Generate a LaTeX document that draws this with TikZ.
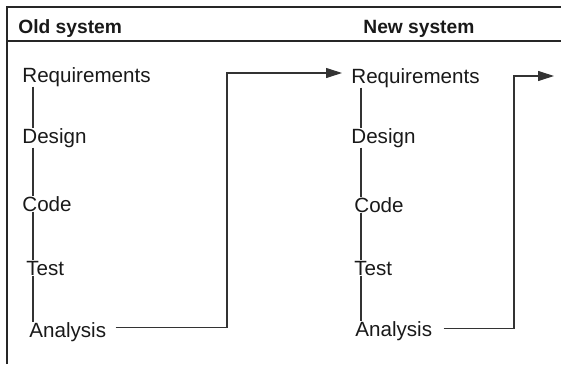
\documentclass[tikz,border=0pt]{standalone}
\usepackage{fontspec}
\setmainfont{Liberation Sans}
\usetikzlibrary{arrows.meta, positioning, calc}

\begin{document}
\begin{tikzpicture}[
    x=0.5pt, y=-0.5pt,
    stage/.style={anchor=base west, inner sep=0pt, text=black!90, font=\fontsize{10.3}{12}\selectfont},
    heading/.style={anchor=base west, inner sep=0pt, text=black!90, font=\fontsize{9.6}{12}\selectfont\bfseries},
    frame/.style={line width=0.8pt, draw=black!85},
    link/.style={line width=0.55pt, draw=black!80},
    flow/.style={link, -{Triangle[length=8pt, width=5pt]}}
]
\useasboundingbox (0,0) rectangle (561,364);

% Rahmen und Kopfzeile
\draw[frame] (7,364) |- (561,7);
\draw[frame] (7,41) -- (561,41);
\node[heading] (oldhead) at (18,33) {Old system};
\node[heading] (newhead) at (363,33) {New system};

% Altes System
\node[stage] (oldreq)  at (22,82)  {Requirements};
\node[stage] (olddes)  at (22,143) {Design};
\node[stage] (oldcode) at (22,211) {Code};
\node[stage] (oldtest) at (26,275) {Test};
\node[stage] (oldana)  at (29,337) {Analysis};

% Neues System
\node[stage] (newreq)  at (351,83)  {Requirements};
\node[stage] (newdes)  at (351,143) {Design};
\node[stage] (newcode) at (354,212) {Code};
\node[stage] (newtest) at (354,275) {Test};
\node[stage] (newana)  at (355,336) {Analysis};

% Hilfspunkte
\coordinate (oldx) at (33,0);
\coordinate (newx) at (361,0);
\coordinate (bend1) at (227,73);
\coordinate (bend2) at (514,76);
\coordinate (nextsys) at (554,76);

% Phasen verbinden
\foreach \a/\b in {oldreq/olddes, olddes/oldcode, oldcode/oldtest, oldtest/oldana} {
    \draw[link] (\a.south -| oldx) -- (\b.north -| oldx);
}
\foreach \a/\b in {newreq/newdes, newdes/newcode, newcode/newtest, newtest/newana} {
    \draw[link] (\a.south -| newx) -- (\b.north -| newx);
}

% Rueckfuehrung
\draw[flow, shorten <=4.5pt, shorten >=4.5pt] ([yshift=2.3pt]oldana.east) -| (bend1) -- (newreq.west |- bend1);
\draw[flow, shorten <=5.5pt] ([yshift=1.3pt]newana.east) -| (bend2) -- (nextsys);

\end{tikzpicture}
\end{document}
